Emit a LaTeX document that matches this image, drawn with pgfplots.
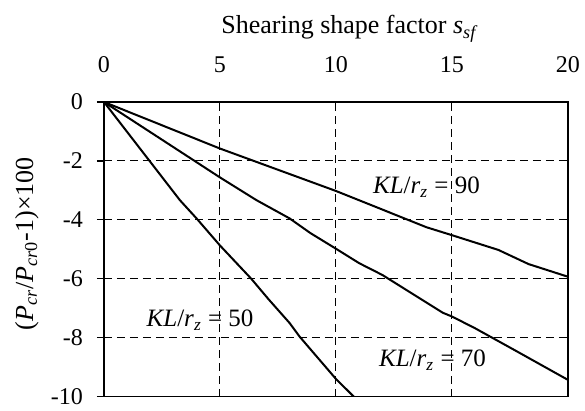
\documentclass[border=0pt]{standalone}
\usepackage{fontspec}
\setmainfont{Liberation Serif}
\usepackage{pgfplots}
\pgfplotsset{compat=1.18}

\newcommand{\KLr}{\textit{KL}/\textit{r}\textsubscript{\textit{z}}}

\begin{document}
\begin{tikzpicture}
\begin{axis}[
  scale only axis,
  width=232pt, height=147.35pt,
  xmin=0, xmax=20, ymin=-10, ymax=0,
  xtick={0,5,10,15,20}, xticklabels={0,5,10,15,20},
  ytick={-10,-8,-6,-4,-2,0}, yticklabels={-10,-8,-6,-4,-2,0},
  xtick pos=upper, xticklabel pos=upper,
  ytick pos=left,
  tick align=outside,
  major tick length=3.5pt,
  xtick style={draw=none},
  ytick style={black, line width=0.6pt},
  xticklabel style={yshift=7.5pt},
  yticklabel style={xshift=-3.5pt},
  tick label style={font=\fontsize{12}{14}\selectfont},
  grid=major,
  major grid style={black, line width=0.5pt, dash pattern=on 4pt off 2.5pt},
  axis line style={black, line width=0.8pt},
  xlabel={Shearing shape factor \textit{s}\textsubscript{\textit{sf}}},
  xlabel style={at={(axis description cs:0.53,1)}, anchor=base, yshift=34pt,
                font=\fontsize{13}{15}\selectfont},
  ylabel={(\textit{P}\textsubscript{\textit{cr}}/\textit{P}\textsubscript{\textit{cr}0}-1)×100},
  ylabel style={at={(axis description cs:-0.166,0.519)}, anchor=center,
                font=\fontsize{13}{15}\selectfont},
]
% KL/r_z = 90
\addplot[black, line width=1pt] coordinates {
  (0,0) (5,-1.58) (10,-3.02) (13.9,-4.25) (15,-4.52)
  (17,-5.02) (18.3,-5.5) (20,-5.93)
};
% KL/r_z = 70
\addplot[black, line width=1pt] coordinates {
  (0,0) (5,-2.56) (6.57,-3.33) (8,-3.95) (8.9,-4.45) (10,-4.98)
  (11,-5.47) (12,-5.87) (14.6,-7.15) (15,-7.28) (16,-7.68)
  (17.7,-8.42) (20,-9.43)
};
% KL/r_z = 50
\addplot[black, line width=1pt] coordinates {
  (0,0) (3.27,-3.33) (4,-3.96) (5,-4.87) (6.35,-6.0) (7.1,-6.7)
  (8,-7.5) (8.43,-7.96) (10,-9.4) (10.77,-10)
};
\node[anchor=base, font=\fontsize{12.5}{15}\selectfont] at (axis cs:13.9,-3.12) {\KLr{} = 90};
\node[anchor=base, font=\fontsize{12.5}{15}\selectfont] at (axis cs:14.16,-8.98) {\KLr{} = 70};
\node[anchor=base, font=\fontsize{12.5}{15}\selectfont] at (axis cs:4.14,-7.62) {\KLr{} = 50};
\end{axis}
\pgfresetboundingbox
\path[use as bounding box] (-52pt,-7.15pt) rectangle (240.5pt,198.35pt);
\end{tikzpicture}
\end{document}
